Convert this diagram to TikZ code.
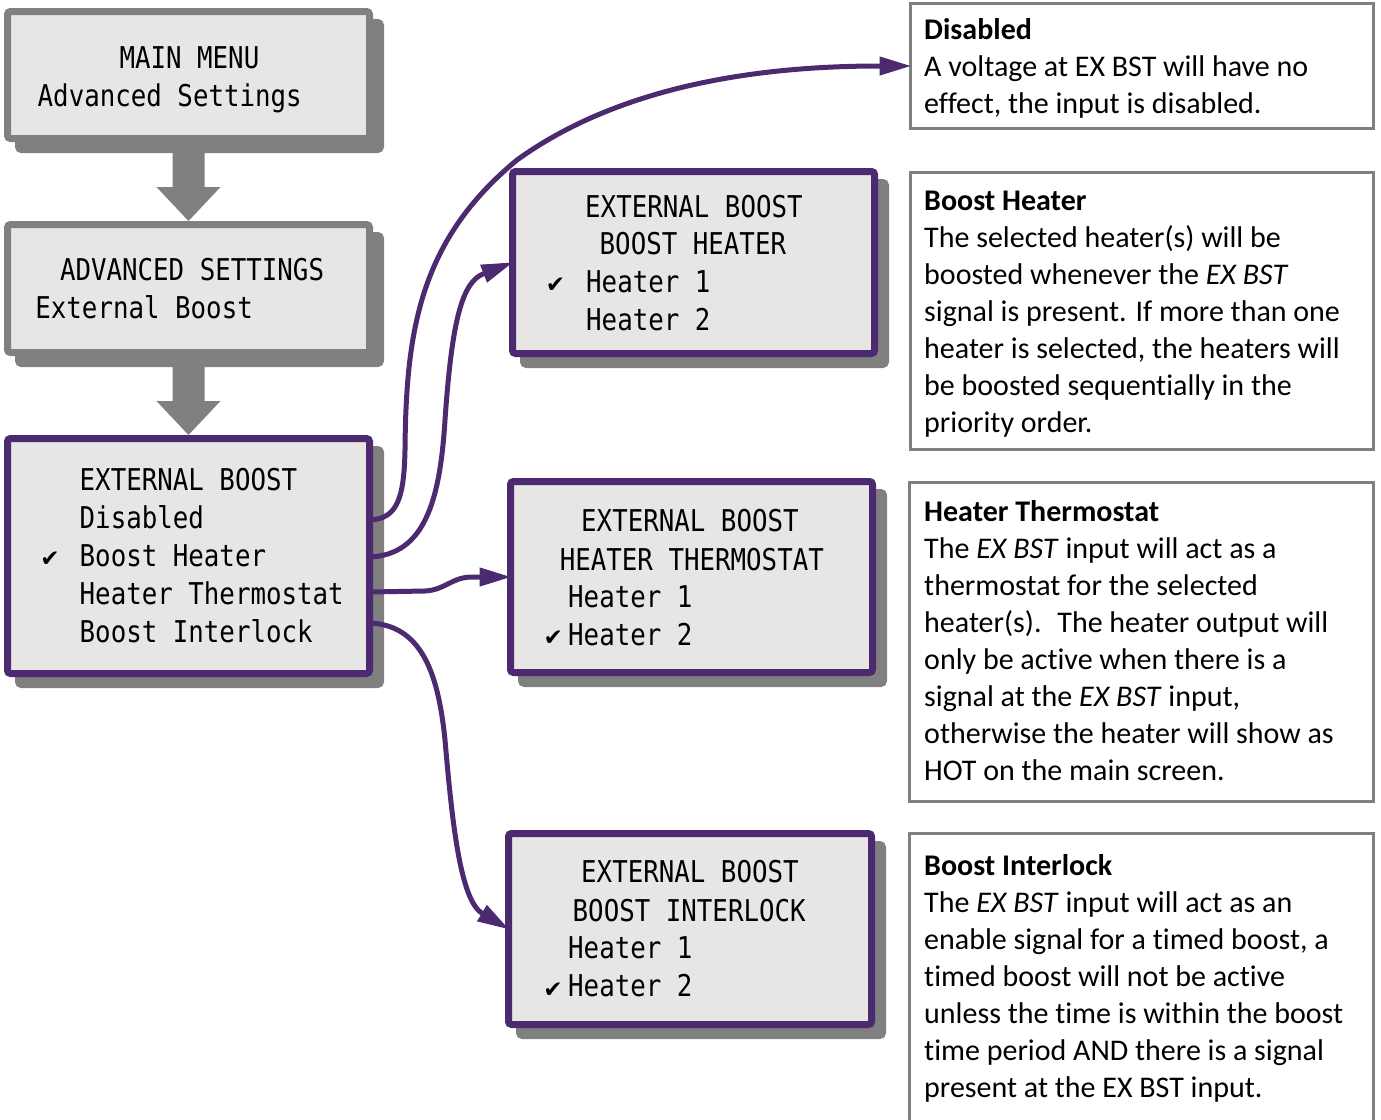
\documentclass[tikz,border=0pt]{standalone}
\usepackage{fontspec}
\setmainfont{Carlito}[Ligatures=NoCommon]
\newfontfamily\lcd[FakeStretch=0.86]{DejaVu Sans Mono}
\newfontfamily\symf{DejaVu Sans}
\usetikzlibrary{arrows.meta,calc}
\definecolor{lcdfill}{RGB}{231,230,229}
\definecolor{shgray}{RGB}{128,128,128}
\definecolor{menupurple}{RGB}{76,42,112}
\definecolor{descgray}{RGB}{128,128,128}
\tikzset{
 lcdbox/.style={rectangle, rounded corners=3pt, fill=lcdfill, line width=7pt, inner sep=0pt, outer sep=0pt, anchor=north west,
   preaction={fill=shgray, draw=shgray, line width=7pt, transform canvas={xshift=11pt,yshift=-11pt}}},
 graybox/.style={lcdbox, draw=shgray},
 purplebox/.style={lcdbox, draw=menupurple},
 lcdtext/.style={font=\lcd\fontsize{30}{30}\selectfont, inner sep=0pt, anchor=base west},
 tick/.style={font=\symf\fontsize{23}{23}\selectfont, inner sep=0pt},
 descbox/.style={rectangle, draw=descgray, line width=3pt, fill=white, inner sep=0pt, outer sep=0pt, anchor=north west},
 desctext/.style={font=\fontsize{30}{37}\selectfont, inner sep=0pt, anchor=base west},
 conn/.style={draw=menupurple, line width=5pt, -{Triangle[length=31pt,width=19pt,line width=1pt]}},
 blockarrow/.style={fill=shgray},
}
\begin{document}
\begin{tikzpicture}[x=1pt,y=-1pt]
\useasboundingbox (0,0) rectangle (1381,1119);
% menu boxes
\node[graybox, minimum width=362pt, minimum height=127pt] (b1) at (7.5,11.5) {};
\node[graybox, minimum width=362pt, minimum height=128pt] (b2) at (7.5,224.5) {};
\node[purplebox, minimum width=362pt, minimum height=235pt] (b3) at (7.5,438.5) {};
\node[purplebox, minimum width=362pt, minimum height=182pt] (bh) at (512.5,171.5) {};
\node[purplebox, minimum width=362pt, minimum height=191pt] (ht) at (510.5,481.5) {};
\node[purplebox, minimum width=363pt, minimum height=191pt] (bi) at (508.5,833.5) {};
% block arrows
\fill[blockarrow] ($(b1.south)+(-16,12)$) -- ($(b2.north)+(-16,-37.5)$) -- ($(b2.north)+(-32,-37.5)$) -- ($(b2.north)+(0,-3.5)$) -- ($(b2.north)+(32,-37.5)$) -- ($(b2.north)+(16,-37.5)$) -- ($(b1.south)+(16,12)$) -- cycle;
\fill[blockarrow] ($(b2.south)+(-16,12)$) -- ($(b3.north)+(-16,-37.5)$) -- ($(b3.north)+(-32,-37.5)$) -- ($(b3.north)+(0,-3.5)$) -- ($(b3.north)+(32,-37.5)$) -- ($(b3.north)+(16,-37.5)$) -- ($(b2.south)+(16,12)$) -- cycle;
% texts
\node[lcdtext] (m1) at (119.3,68) {MAIN MENU};
\node[lcdtext] (m2) at (37.5,106) {Advanced Settings};
\node[lcdtext] (a1) at (59.8,280) {ADVANCED SETTINGS};
\node[lcdtext] (a2) at (35.2,318) {External Boost};
\node[lcdtext] (e1) at (79.5,490.5) {EXTERNAL BOOST};
\node[lcdtext] (e2) at (79.5,528.5) {Disabled};
\node[lcdtext] (e3) at (79.5,566.5) {Boost Heater};
\node[lcdtext] (e4) at (79.5,604.5) {Heater Thermostat};
\node[lcdtext] (e5) at (79.5,642.5) {Boost Interlock};
\node[tick] (t3) at (50,559) {✔};
\node[lcdtext] (h1) at (585,217) {EXTERNAL BOOST};
\node[lcdtext] (h2) at (599.5,254.5) {BOOST HEATER};
\node[lcdtext] (h3) at (586,292.5) {Heater 1};
\node[lcdtext] (h4) at (586,330.5) {Heater 2};
\node[tick] (th) at (555.5,285) {✔};
\node[lcdtext] (s1) at (581,531.5) {EXTERNAL BOOST};
\node[lcdtext] (s2) at (559.6,570) {HEATER THERMOSTAT};
\node[lcdtext] (s3) at (568,607.5) {Heater 1};
\node[lcdtext] (s4) at (568,645.5) {Heater 2};
\node[tick] (ts) at (553.3,638) {✔};
\node[lcdtext] (i1) at (581,882.5) {EXTERNAL BOOST};
\node[lcdtext] (i2) at (572.5,921) {BOOST INTERLOCK};
\node[lcdtext] (i3) at (568,958.5) {Heater 1};
\node[lcdtext] (i4) at (568,996.5) {Heater 2};
\node[tick] (ti) at (553,990) {✔};
% description boxes
\node[descbox, minimum width=463pt, minimum height=125pt] (d1) at (910.5,3.5) {};
\node[descbox, minimum width=463pt, minimum height=277pt] (d2) at (910.5,172.5) {};
\node[descbox, minimum width=464pt, minimum height=319pt] (d3) at (909.5,482.5) {};
\node[descbox, minimum width=464pt, minimum height=300pt] (d4) at (909.5,833.5) {};
\node[desctext] (d1t) at (924,39) {\begin{tabular}[t]{@{}l@{}}\textbf{Disabled}\\ A voltage at EX BST will have no\\ effect, the input is disabled.\end{tabular}};
\node[desctext] (d2t) at (924,210) {\begin{tabular}[t]{@{}l@{}}\textbf{Boost Heater}\\ The selected heater(s) will be\\ boosted whenever the \textit{EX BST}\\ signal is present. If more than one\\ heater is selected, the heaters will\\ be boosted sequentially in the\\ priority order.\end{tabular}};
\node[desctext] (d3t) at (924,521.5) {\begin{tabular}[t]{@{}l@{}}\textbf{Heater Thermostat}\\ The \textit{EX BST} input will act as a\\ thermostat for the selected\\ heater(s).~ The heater output will\\ only be active when there is a\\ signal at the \textit{EX BST} input,\\ otherwise the heater will show as\\ HOT on the main screen.\end{tabular}};
\node[desctext] (d4t) at (924,875) {\begin{tabular}[t]{@{}l@{}}\textbf{Boost Interlock}\\ The \textit{EX BST} input will act as an\\ enable signal for a timed boost, a\\ timed boost will not be active\\ unless the time is within the boost\\ time period AND there is a signal\\ present at the EX BST input.\end{tabular}};
% connectors
\draw[conn] ($(b3.east)+(0,-36)$) .. controls +(28,-1) and +(-1,48) .. (405,450) .. controls (406,330) and (420,240) .. (517,160) .. controls (600,100) and (720,66) .. (d1.west);
\draw[conn] ($(b3.east)+(0,1)$) .. controls (425,555) and (440,500) .. (445,420) .. controls (452,320) and (462,282) .. (bh.west);
\draw[conn] ($(b3.east)+(0,36)$) -- (425,591) .. controls (445,590) and (452,577) .. (472,577) -- (ht.west);
\draw[conn] ($(b3.east)+(0,67)$) .. controls (420,625) and (438,670) .. (445,740) .. controls (452,820) and (460,900) .. (bi.west);
\end{tikzpicture}
\end{document}
